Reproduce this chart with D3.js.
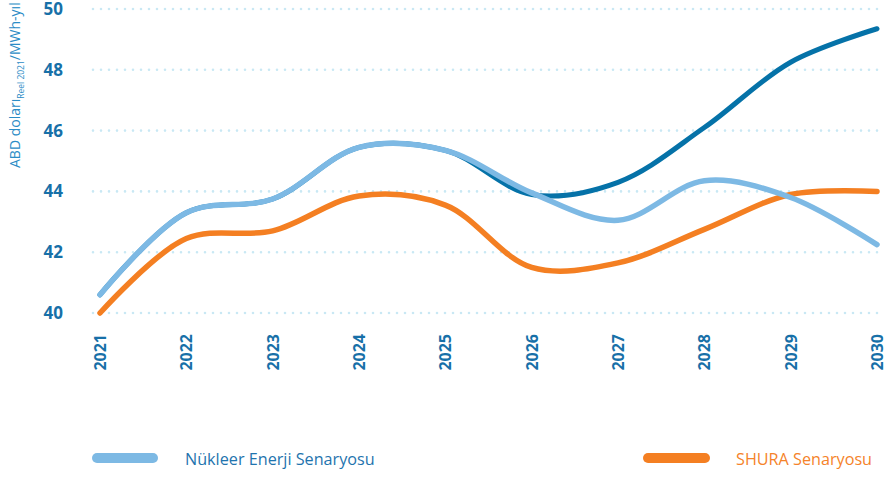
<!DOCTYPE html>
<html>
<head>
<meta charset="utf-8">
<script src="https://cdn.jsdelivr.net/npm/d3@7"></script>
<style>
  body { margin: 0; background: #fff; }
  svg { display: block; font-family: "Open Sans", "Noto Sans", sans-serif; }
  .tick-label { fill: #1770a8; font-weight: 700; font-size: 16px; }
  .grid line { stroke: #c9e8f4; stroke-width: 2.6; stroke-dasharray: 0 8; stroke-linecap: round; }
</style>
</head>
<body>
<div id="chart"></div>
<script>
// Data
var years = [2021, 2022, 2023, 2024, 2025, 2026, 2027, 2028, 2029, 2030];
var yTicks = [40, 42, 44, 46, 48, 50];
var nuclear = [40.6, 43.3, 43.75, 45.45, 45.35, 43.95, 43.05, 44.35, 43.8, 42.25];
var nuclearHigh = [40.6, 43.3, 43.75, 45.45, 45.35, 43.9, 44.3, 46.1, 48.25, 49.35];
var shura = [40.0, 42.45, 42.7, 43.85, 43.55, 41.5, 41.65, 42.75, 43.9, 44.0];
var legendNames = ["Nükleer Enerji Senaryosu", "SHURA Senaryosu"];

var COLORS = {
  light: "#7db9e4",
  dark: "#0572a8",
  orange: "#f47f22"
};

var width = 893, height = 477;

var svg = d3.select("#chart")
  .append("svg")
  .attr("width", width)
  .attr("height", height);

// Scales
var xScale = d3.scaleLinear()
  .domain([2021, 2030])
  .range([100, 877]);

var yScale = d3.scaleLinear()
  .domain([40, 50])
  .range([313, 9]);

// Grid
svg.append("g")
  .attr("class", "grid")
  .selectAll("line")
  .data(yTicks)
  .enter()
  .append("line")
  .attr("x1", 93)
  .attr("x2", 881)
  .attr("y1", d => yScale(d))
  .attr("y2", d => yScale(d));

// Y axis labels
svg.append("g")
  .selectAll("text")
  .data(yTicks)
  .enter()
  .append("text")
  .attr("class", "tick-label")
  .attr("x", 63)
  .attr("y", d => yScale(d) + 6)
  .attr("text-anchor", "end")
  .style("font-size", "17px")
  .text(d => d);

// X axis labels (rotated)
svg.append("g")
  .selectAll("text")
  .data(years)
  .enter()
  .append("text")
  .attr("class", "tick-label")
  .attr("text-anchor", "end")
  .attr("transform", d => "translate(" + (xScale(d) + 6) + ",334) rotate(-90)")
  .text(d => d);

// Y axis title
var title = svg.append("text")
  .attr("transform", "translate(20,168) rotate(-90)")
  .style("fill", "#2b8cc6")
  .style("font-size", "14px");
title.append("tspan").text("ABD doları");
title.append("tspan").attr("dy", 4).style("font-size", "8.5px").text("Reel 2021");
title.append("tspan").attr("dy", -4).text("/MWh-yıl");

// Lines
var line = d3.line()
  .x((d, i) => xScale(years[i]))
  .y(d => yScale(d))
  .curve(d3.curveCatmullRom.alpha(0.5));

svg.append("path")
  .datum(shura)
  .attr("d", line)
  .attr("fill", "none")
  .attr("stroke", COLORS.orange)
  .attr("stroke-width", 5.5)
  .attr("stroke-linecap", "round");

svg.append("path")
  .datum(nuclearHigh)
  .attr("d", line)
  .attr("fill", "none")
  .attr("stroke", COLORS.dark)
  .attr("stroke-width", 5)
  .attr("stroke-linecap", "round");

svg.append("path")
  .datum(nuclear)
  .attr("d", line)
  .attr("fill", "none")
  .attr("stroke", COLORS.light)
  .attr("stroke-width", 5.5)
  .attr("stroke-linecap", "round");

// Legend
var legendItems = [
  { name: legendNames[0], color: COLORS.light, text: "#1f74ae", x1: 97, x2: 153, tx: 185 },
  { name: legendNames[1], color: COLORS.orange, text: "#f5832a", x1: 648, x2: 705, tx: 736 }
];

var legend = svg.append("g")
  .selectAll("g")
  .data(legendItems)
  .enter()
  .append("g");

legend.append("line")
  .attr("x1", d => d.x1)
  .attr("x2", d => d.x2)
  .attr("y1", 458)
  .attr("y2", 458)
  .attr("stroke", d => d.color)
  .attr("stroke-width", 10)
  .attr("stroke-linecap", "round");

legend.append("text")
  .attr("x", d => d.tx)
  .attr("y", 465)
  .style("fill", d => d.text)
  .style("font-size", "16.2px")
  .text(d => d.name);
</script>
</body>
</html>
